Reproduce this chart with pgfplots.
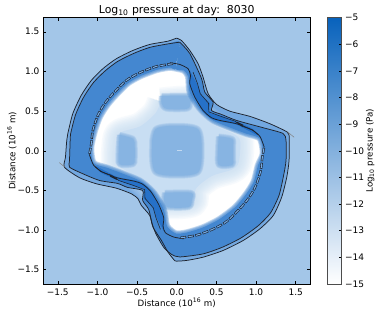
\documentclass[border=0pt]{standalone}
\usepackage{fontspec}
\setmainfont{DejaVu Sans}
\usepackage{pgfplots}
\usepackage{pgfplotstable}
\pgfplotsset{compat=1.18}
\definecolor{bgc}{RGB}{163,198,232}
\definecolor{bandc}{RGB}{115,168,224}
\definecolor{ringc}{RGB}{68,135,208}
\definecolor{darkc}{RGB}{38,113,200}
\definecolor{midc}{RGB}{200,222,243}
\definecolor{blobc}{RGB}{135,180,226}
\definecolor{linec}{RGB}{30,35,45}
\pgfplotstableread{
x y
-1.68 -1.68
1.68 -1.68
1.68 1.68
-1.68 1.68
}\tBack
\pgfplotstableread{
x y
-.004 1.420
.059 1.391
.164 1.265
.269 1.097
.332 .928
.396 .719
.502 .584
.670 .499
.923 .433
1.176 .340
1.394 .235
1.419 .171
1.419 .130
1.416 -.122
1.387 -.333
1.323 -.585
1.217 -.816
1.049 -.984
.838 -1.131
.585 -1.257
.332 -1.342
.123 -1.383
-.004 -1.392
-.025 -1.386
-.110 -1.279
-.193 -1.131
-.300 -.963
-.341 -.816
-.446 -.690
-.489 -.605
-.573 -.542
-.762 -.472
-1.015 -.416
-1.226 -.340
-1.416 -.207
-1.403 -.081
-1.387 .130
-1.374 .214
-1.311 .467
-1.205 .697
-1.078 .886
-.932 1.034
-.762 1.160
-.552 1.265
-.341 1.340
-.110 1.382
-.004 1.420
}\tOuter
\pgfplotstableread{
x y
.038 1.369
.164 1.227
.312 .912
.354 .739
.459 .613
.439 .508
.565 .458
.755 .382
1.091 .290
1.340 .218
1.378 .130
1.378 -.122
1.346 -.318
1.289 -.564
1.182 -.784
1.024 -.948
.809 -1.100
.569 -1.219
.329 -1.301
.038 -1.339
-.063 -1.308
-.164 -1.219
-.265 -1.043
-.312 -.912
-.354 -.740
-.430 -.627
-.430 -.501
-.619 -.463
-.746 -.412
-.973 -.375
-1.184 -.290
-1.352 -.207
-1.352 -.122
-1.344 .130
-1.340 .206
-1.277 .451
-1.176 .672
-1.049 .861
-.904 1.006
-.746 1.126
-.544 1.227
-.341 1.303
-.114 1.347
.038 1.369
}\tSecond
\pgfplotstableread{
x y
-.013 1.038
.088 1.013
.145 .937
.164 .739
.291 .530
.459 .382
.712 .277
.881 .214
1.049 .155
1.087 -.034
1.024 -.185
.973 -.387
.872 -.551
.733 -.715
.531 -.867
.329 -.968
.126 -1.031
-.013 -1.043
-.123 -.950
-.164 -.739
-.291 -.530
-.459 -.382
-.712 -.277
-.881 -.214
-1.049 -.155
-1.081 .034
-1.036 .243
-.973 .420
-.885 .565
-.784 .685
-.619 .849
-.455 .943
-.253 1.019
-.088 1.050
-.013 1.038
}\tCavity
\pgfplotstableread{
x y
.038 1.369
.164 1.227
.312 .912
.354 .739
.459 .613
.439 .508
.565 .458
.755 .382
1.091 .290
1.340 .218
1.378 .130
1.378 -.122
1.346 -.318
1.289 -.564
1.182 -.784
1.024 -.948
.809 -1.100
.569 -1.219
.329 -1.301
.038 -1.339
-.063 -1.308
-.164 -1.219
-.265 -1.043
-.312 -.912
-.354 -.740
-.430 -.627
-.430 -.501
-.619 -.463
-.746 -.412
-.973 -.375
-1.184 -.290
-1.352 -.207
-1.352 -.122
-1.344 .130
-1.340 .206
-1.277 .451
-1.176 .672
-1.049 .861
-.904 1.006
-.746 1.126
-.544 1.227
-.341 1.303
-.114 1.347
.038 1.369
-.013 1.038
.088 1.013
.145 .937
.164 .739
.291 .530
.459 .382
.712 .277
.881 .214
1.049 .155
1.087 -.034
1.024 -.185
.973 -.387
.872 -.551
.733 -.715
.531 -.867
.329 -.968
.126 -1.031
-.013 -1.043
-.123 -.950
-.164 -.739
-.291 -.530
-.459 -.382
-.712 -.277
-.881 -.214
-1.049 -.155
-1.081 .034
-1.036 .243
-.973 .420
-.885 .565
-.784 .685
-.619 .849
-.455 .943
-.253 1.019
-.088 1.050
-.013 1.038
.038 1.369
}\tRing
\pgfplotstableread{
x y
-.20 .62
.16 .64
.26 .50
.46 .33
.72 .21
.80 .12
.78 -.15
.69 -.24
.44 -.32
.24 -.48
.20 -.66
-.17 -.68
-.31 -.53
-.50 -.34
-.72 -.20
-.78 -.13
-.76 .16
-.69 .24
-.46 .31
-.27 .47
-.20 .62
}\tMid
\pgfplotstableread{
x y
.164 1.013
.265 .823
.316 .697
.417 .596
.404 .483
.581 .433
.746 .369
.948 .281
1.024 .193
.923 .243
.746 .332
.544 .369
.430 .407
.329 .496
.228 .672
.164 .836
.164 1.013
}\tDarkUR
\pgfplotstableread{
x y
-.164 -1.013
-.265 -.823
-.316 -.697
-.417 -.596
-.404 -.483
-.581 -.433
-.746 -.369
-.948 -.281
-1.024 -.193
-.923 -.243
-.746 -.332
-.544 -.369
-.430 -.407
-.329 -.496
-.228 -.672
-.164 -.836
-.164 -1.013
}\tDarkLL
\pgfplotstableread{
x y
.206 .991
.262 .845
.296 .72
.40 .60
.405 .49
.58 .425
.73 .375
.82 .31
.96 .262
1.03 .20
}\tNeckUR
\pgfplotstableread{
x y
-.206 -.991
-.262 -.845
-.296 -.72
-.40 -.60
-.405 -.49
-.58 -.425
-.73 -.375
-.82 -.31
-.96 -.262
-1.03 -.20
}\tNeckLL
\pgfplotstableread{
x y
-.088 1.110
.038 1.088
.143 1.034
.173 .950
.164 .845
.228 .676
.332 .508
.439 .416
.544 .382
.755 .340
.944 .265
1.049 .180
1.103 .045
}\tInUR
\pgfplotstableread{
x y
.088 -1.110
-.038 -1.088
-.143 -1.034
-.173 -.950
-.164 -.845
-.228 -.676
-.332 -.508
-.439 -.416
-.544 -.382
-.755 -.340
-.944 -.265
-1.049 -.180
-1.103 -.045
}\tInLL
\pgfplotstableread{
x y
-1.100 -.038
-1.078 .088
-1.058 .256
-.995 .445
-.910 .593
-.805 .719
-.636 .886
-.468 .983
-.257 1.063
-.047 1.097
}\tArcNW
\pgfplotstableread{
x y
1.100 .038
1.078 -.088
1.058 -.256
.995 -.445
.910 -.593
.805 -.719
.636 -.886
.468 -.983
.257 -1.063
.047 -1.097
}\tArcSE
\pgfplotstableread{
x y
-.31 .13
-.27 .27
-.13 .31
.13 .31
.27 .27
.31 .13
.31 -.13
.27 -.27
.13 -.31
-.13 -.31
-.27 -.27
-.31 -.13
-.31 .13
}\tCentre
\pgfplotstableread{
x y
-.19 .69
.16 .69
.17 .60
.13 .53
-.13 .53
-.19 .60
-.19 .69
}\tTop
\pgfplotstableread{
x y
-.15 -.53
.18 -.53
.19 -.62
.15 -.71
-.12 -.71
-.16 -.62
-.15 -.53
}\tBottom
\pgfplotstableread{
x y
-.72 .20
-.55 .15
-.53 .05
-.53 -.10
-.55 -.17
-.72 -.17
-.73 0
-.72 .20
}\tLeft
\pgfplotstableread{
x y
.53 .18
.70 .15
.71 .05
.71 -.10
.70 -.18
.53 -.18
.52 0
.53 .18
}\tRight
\newcommand\soft[2]{%
  \pgfplotsinvokeforeach{6,5,4,3,2,1}{%
    \addplot[smooth,tension=.5,draw=#2,opacity=.22,line width=##1pt,line join=round] table {#1};}
  \addplot[smooth,tension=.5,draw=none,fill=#2] table {#1};}
\begin{document}
\begin{tikzpicture}
\useasboundingbox (-43.5pt,-30pt) rectangle (338.5pt,284pt);
\begin{axis}[
  scale only axis, width=266.5pt, height=266.5pt,
  xmin=-1.68, xmax=1.68, ymin=-1.68, ymax=1.68,
  no markers, axis on top, clip=true,
  tick align=inside, major tick length=3pt,
  tick style={black, line width=.5pt},
  axis line style={line width=.8pt},
  xtick={-1.5,-1,-.5,0,.5,1,1.5},
  ytick={-1.5,-1,-.5,0,.5,1,1.5},
  xticklabels={−1.5,−1.0,−0.5,0.0,0.5,1.0,1.5},
  yticklabels={−1.5,−1.0,−0.5,0.0,0.5,1.0,1.5},
  tick label style={font=\fontsize{9}{9}\selectfont},
  xticklabel style={yshift=-1pt},
  yticklabel style={xshift=-.5pt},
  title={Log\textsubscript{10} pressure at day:\ \ 8030},
  title style={font=\fontsize{10.9}{10.9}\selectfont, at={(axis description cs:.5,1)}, anchor=south, yshift=-8pt},
  xlabel={Distance (10\textsuperscript{16} m)},
  ylabel={Distance (10\textsuperscript{16} m)},
  label style={font=\fontsize{8.7}{8.7}\selectfont},
  xlabel style={at={(axis description cs:.5,0)}, anchor=center, yshift=-19pt},
  ylabel style={at={(axis description cs:-.119,.5)}, anchor=center, rotate=0},
  colormap={pres}{rgb255(0)=(255,255,255); rgb255(1)=(8,98,188)},
  point meta min=-15, point meta max=-5,
  colorbar,
  colorbar style={
    at={(parent axis.north east)}, anchor=north west, xshift=9pt,
    width=14pt, height=266.5pt, scale only axis,
    ytick={-15,-14,...,-5},
    yticklabels={−15,−14,−13,−12,−11,−10,−9,−8,−7,−6,−5},
    ytick pos=right, yticklabel pos=right,
    tick align=inside, major tick length=3pt,
    tick style={black, line width=.5pt},
    axis line style={line width=.8pt, black!70},
    yticklabel style={font=\fontsize{9}{9}\selectfont},
    ylabel={Log\textsubscript{10} pressure (Pa)},
    ylabel style={font=\fontsize{8.7}{8.7}\selectfont, at={(axis description cs:3.05,.5)}, anchor=center, rotate=0},
  },
]
\addplot[draw=none,fill=bgc] table {\tBack};
% outer band, then white interior
\addplot[smooth,tension=.4,draw=none,fill=bandc] table {\tOuter};
\addplot[smooth,tension=.4,draw=none,fill=white] table {\tSecond};
% soft inner parts
\pgfplotsinvokeforeach{28,25,22,19,16,13,10,7,4}{%
  \addplot[smooth,tension=.5,draw=midc,opacity=.14,line width=#1pt,line join=round] table {\tMid};}
\addplot[smooth,tension=.5,draw=none,fill=midc] table {\tMid};
\soft{\tCentre}{blobc}
\soft{\tTop}{blobc}
\soft{\tBottom}{blobc}
\soft{\tLeft}{blobc}
\soft{\tRight}{blobc}
\addplot[white,opacity=.5,line width=.6pt] coordinates {(0,0) (.07,0)};
% main ring over everything inside
\addplot[smooth,tension=.4,draw=none,fill=ringc,even odd rule] table {\tRing};
\pgfplotsinvokeforeach{6.5,5,3.5,2}{%
  \addplot[smooth,tension=.4,draw=ringc,opacity=.3,line width=#1pt,line join=round] table {\tCavity};}
% dark neck
\addplot[smooth,tension=.4,draw=none,fill=darkc] table {\tDarkUR};
\addplot[smooth,tension=.4,draw=none,fill=darkc] table {\tDarkLL};
% contours
\addplot[smooth,tension=.4,linec,line width=.75pt,line join=round] table {\tOuter};
\addplot[smooth,tension=.4,linec,line width=.75pt,line join=round] table {\tSecond};
\addplot[smooth,tension=.4,linec,line width=.75pt,line join=round] table {\tInUR};
\addplot[smooth,tension=.4,linec,line width=.75pt,line join=round] table {\tInLL};
\addplot[linec,line width=.55pt,line join=round] table {\tNeckUR};
\addplot[linec,line width=.55pt,line join=round] table {\tNeckLL};
% broken contour: small closed loops
\addplot[smooth,tension=.5,linec,line width=2.3pt,dash pattern=on 6pt off 1.6pt] table {\tArcNW};
\addplot[smooth,tension=.5,bandc,line width=1.1pt,dash pattern=on 4.8pt off 2.8pt,dash phase=-.6pt] table {\tArcNW};
\addplot[smooth,tension=.5,linec,line width=2.3pt,dash pattern=on 6pt off 1.6pt] table {\tArcSE};
\addplot[smooth,tension=.5,bandc,line width=1.1pt,dash pattern=on 4.8pt off 2.8pt,dash phase=-.6pt] table {\tArcSE};
% small features
\addplot[linec,line width=1.1pt] coordinates {(.755,.361) (.838,.319)};
\addplot[linec,line width=1.1pt] coordinates {(-.755,-.361) (-.838,-.319)};
\addplot[black!50,line width=.5pt] coordinates {(1.40,.235) (1.48,.17)};
\addplot[black!50,line width=.5pt] coordinates {(-1.41,-.207) (-1.48,-.15)};
\end{axis}
\end{tikzpicture}
\end{document}
